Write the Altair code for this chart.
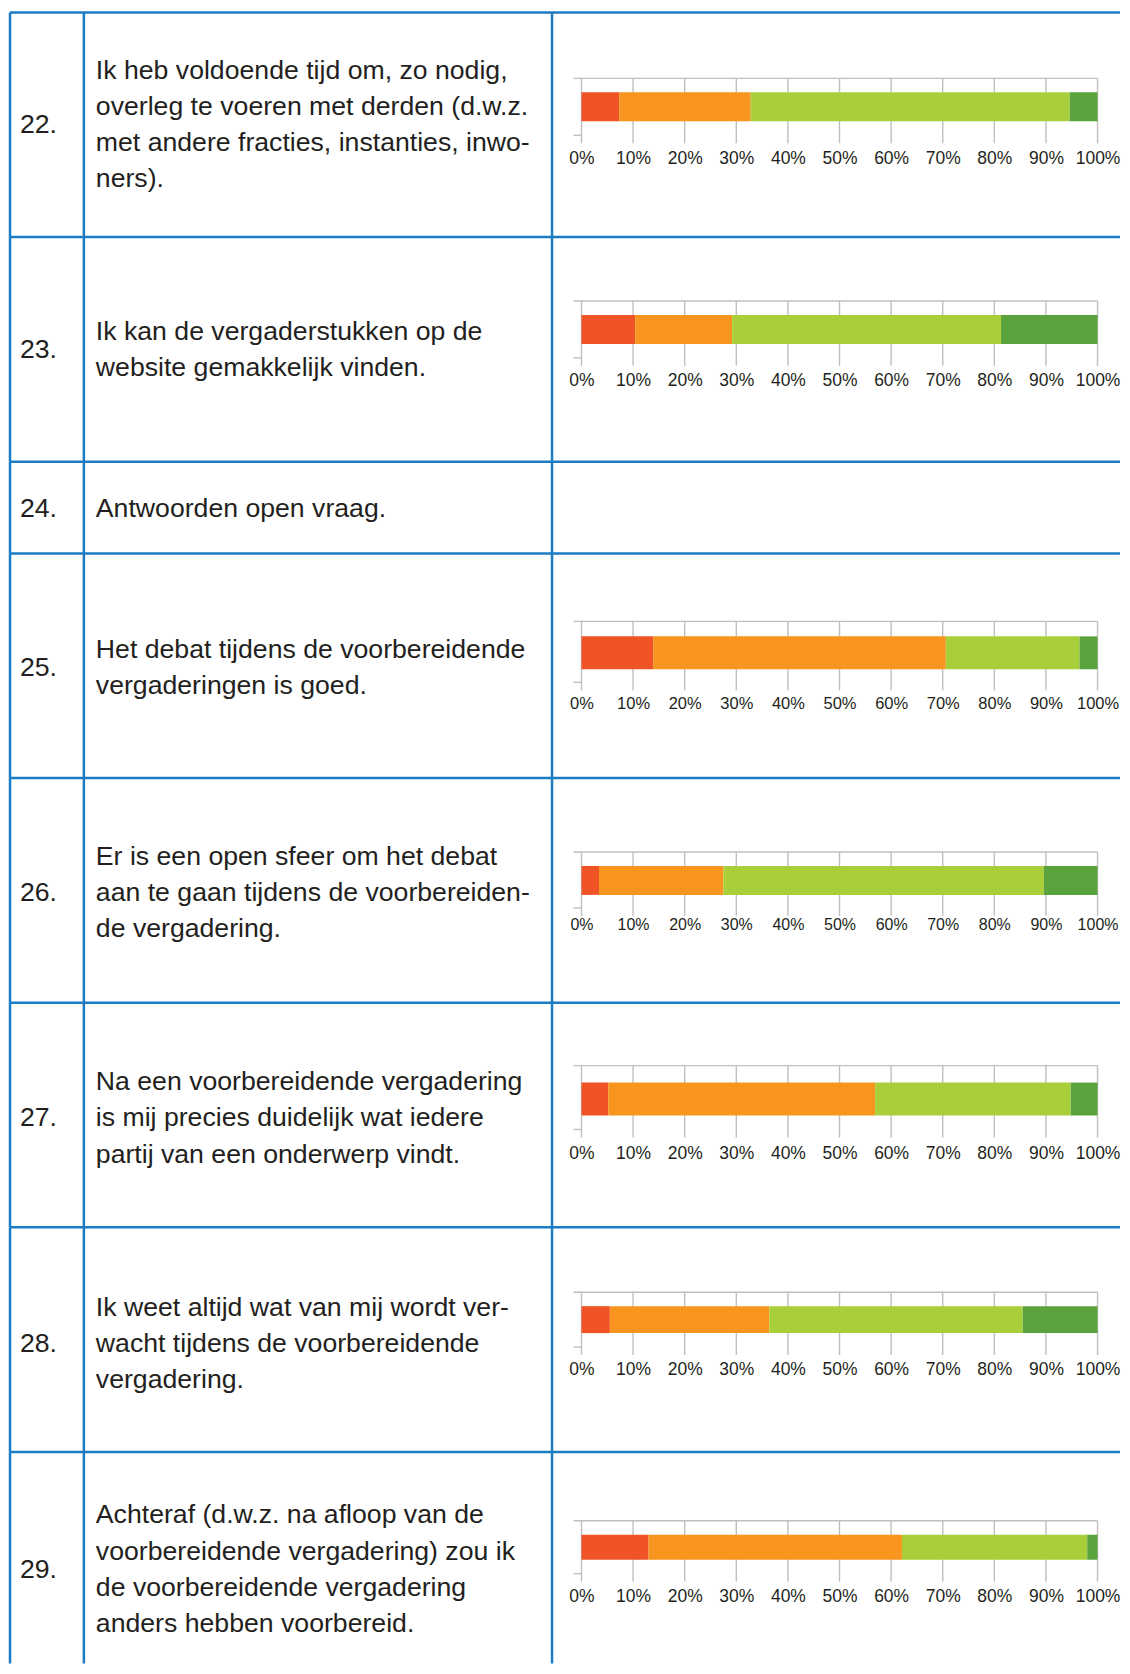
import altair as alt
import pandas as pd

# ---------------- data ----------------
numbers = ["22.", "23.", "24.", "25.", "26.", "27.", "28.", "29."]
questions = [
    "Ik heb voldoende tijd om, zo nodig,\noverleg te voeren met derden (d.w.z.\nmet andere fracties, instanties, inwo-\nners).",
    "Ik kan de vergaderstukken op de\nwebsite gemakkelijk vinden.",
    "Antwoorden open vraag.",
    "Het debat tijdens de voorbereidende\nvergaderingen is goed.",
    "Er is een open sfeer om het debat\naan te gaan tijdens de voorbereiden-\nde vergadering.",
    "Na een voorbereidende vergadering\nis mij precies duidelijk wat iedere\npartij van een onderwerp vindt.",
    "Ik weet altijd wat van mij wordt ver-\nwacht tijdens de voorbereidende\nvergadering.",
    "Achteraf (d.w.z. na afloop van de\nvoorbereidende vergadering) zou ik\nde voorbereidende vergadering\nanders hebben voorbereid.",
]
categories = ["Zeer oneens", "Oneens", "Eens", "Zeer eens"]
values_22 = [7.3, 25.5, 61.8, 5.4]
values_23 = [10.4, 18.8, 52.1, 18.7]
values_24 = None
values_25 = [13.9, 56.7, 25.9, 3.5]
values_26 = [3.4, 24.1, 62.1, 10.4]
values_27 = [5.2, 51.7, 37.9, 5.2]
values_28 = [5.5, 30.9, 49.1, 14.5]
values_29 = [13.0, 49.1, 35.9, 2.0]
all_values = [values_22, values_23, values_24, values_25,
              values_26, values_27, values_28, values_29]
tick_values = [0, 10, 20, 30, 40, 50, 60, 70, 80, 90, 100]

# ---------------- style / layout ----------------
FONT = "Liberation Sans"
TEXT = "#231f20"
BLUE = "#1b7bc4"
GRAY = "#bfbfbf"
BW = 2.5
COLORS = ["#ef5326", "#f7951f", "#a8cf3a", "#5aa23c"]
FS = 26.7
LH = 36.2

W1, W2, W3 = 74, 469, 569
row_heights = [225, 225, 92, 225, 225, 225, 225, 212]
text_center = [112, 112, 46, 114, 114, 115, 116, 117]
# (gridline top, bar top, bar bottom, frame bottom, label y, label size)
bar_layout = [
    (66, 80, 109, 123, 146, 17.5),
    (64, 78, 107, 121, 144, 17.5),
    None,
    (68, 83, 116, 129, 150, 16.5),
    (74, 88, 117, 130, 147, 16),
    (63, 80, 113, 127, 151, 17.5),
    (65, 79, 106, 120, 142, 17.5),
    (69, 83, 108, 122, 145, 17.5),
]
X0, X1 = 29.5, 546.5


def one(i, tag):
    return alt.Data(values=[{"row": i, "tag": tag}])


def borders(i, H, W, tag):
    b = alt.Chart(one(i, tag)).mark_rule(color=BLUE, strokeWidth=BW)
    top = b.encode(x=alt.value(0), x2=alt.value(W), y=alt.value(0))
    left = b.encode(x=alt.value(0), y=alt.value(0), y2=alt.value(H))
    return [top, left]


def num_panel(i):
    H = row_heights[i]
    t = alt.Chart(pd.DataFrame({"n": [numbers[i]]})).mark_text(
        align="left", baseline="alphabetic", font=FONT, fontSize=FS, color=TEXT
    ).encode(text="n:N", x=alt.value(10), y=alt.value(text_center[i] + 9))
    return alt.layer(*borders(i, H, W1, "num"), t).properties(width=W1, height=H)


def text_panel(i):
    H = row_heights[i]
    n_lines = questions[i].count("\n") + 1
    y0 = text_center[i] - (n_lines - 1) * LH / 2 + 9
    t = alt.Chart(pd.DataFrame({"q": [questions[i]]})).mark_text(
        align="left", baseline="alphabetic", font=FONT, fontSize=FS, color=TEXT,
        lineBreak="\n", lineHeight=LH
    ).encode(text="q:N", x=alt.value(12), y=alt.value(y0))
    return alt.layer(*borders(i, H, W2, "txt"), t).properties(width=W2, height=H)


def bar_panel(i):
    H = row_heights[i]
    layers = borders(i, H, W3, "bar")
    vals = all_values[i]
    if vals is not None:
        top, bt, bb, bot, ly, lsize = bar_layout[i]
        xscale = alt.Scale(domain=[0, 100], range=[X0, X1], nice=False, zero=False)
        axis = alt.Axis(
            values=tick_values, labelExpr="datum.value + '%'", domain=False,
            ticks=False, tickSize=0, grid=False, title=None,
            offset=-(H - ly), labelPadding=0, labelBaseline="middle",
            labelFontSize=lsize, labelColor=TEXT, labelFont=FONT,
            labelFlush=False, labelOverlap=False, orient="bottom",
        )
        g = alt.Chart(pd.DataFrame({"t": tick_values, "row": i})).mark_rule(
            color=GRAY, strokeWidth=1.4
        ).encode(
            x=alt.X("t:Q", scale=xscale, axis=axis),
            y=alt.value(top), y2=alt.value(bot + 8),
        )
        gl = alt.Chart(one(i, "gray")).mark_rule(color=GRAY, strokeWidth=1.4)
        top_line = gl.encode(x=alt.value(X0 - 8), x2=alt.value(X1), y=alt.value(top))
        bot_stub = gl.encode(x=alt.value(X0 - 8), x2=alt.value(X0), y=alt.value(bot))
        df = pd.DataFrame({"cat": categories, "pct": vals, "k": [0, 1, 2, 3], "row": i})
        bars = alt.Chart(df).transform_window(
            end="sum(pct)", sort=[alt.SortField("k")], frame=[None, 0]
        ).transform_calculate(
            start="datum.end - datum.pct"
        ).mark_bar(stroke=None).encode(
            x=alt.X("start:Q", scale=xscale, axis=axis),
            x2="end:Q",
            y=alt.value(bt), y2=alt.value(bb),
            color=alt.Color("cat:N", scale=alt.Scale(domain=categories, range=COLORS),
                            legend=None),
        )
        layers = layers + [g, top_line, bot_stub, bars]
    return alt.layer(*layers).properties(width=W3, height=H)


panels = []
for i in range(len(numbers)):
    panels += [num_panel(i), text_panel(i), bar_panel(i)]

chart = alt.concat(*panels, columns=3, spacing=0, bounds="flush").properties(
    padding={"left": 0, "top": 1, "right": 0, "bottom": 0}
).configure_view(stroke=None)

chart.save("out.html", embed_options={"renderer": "svg", "actions": False})
